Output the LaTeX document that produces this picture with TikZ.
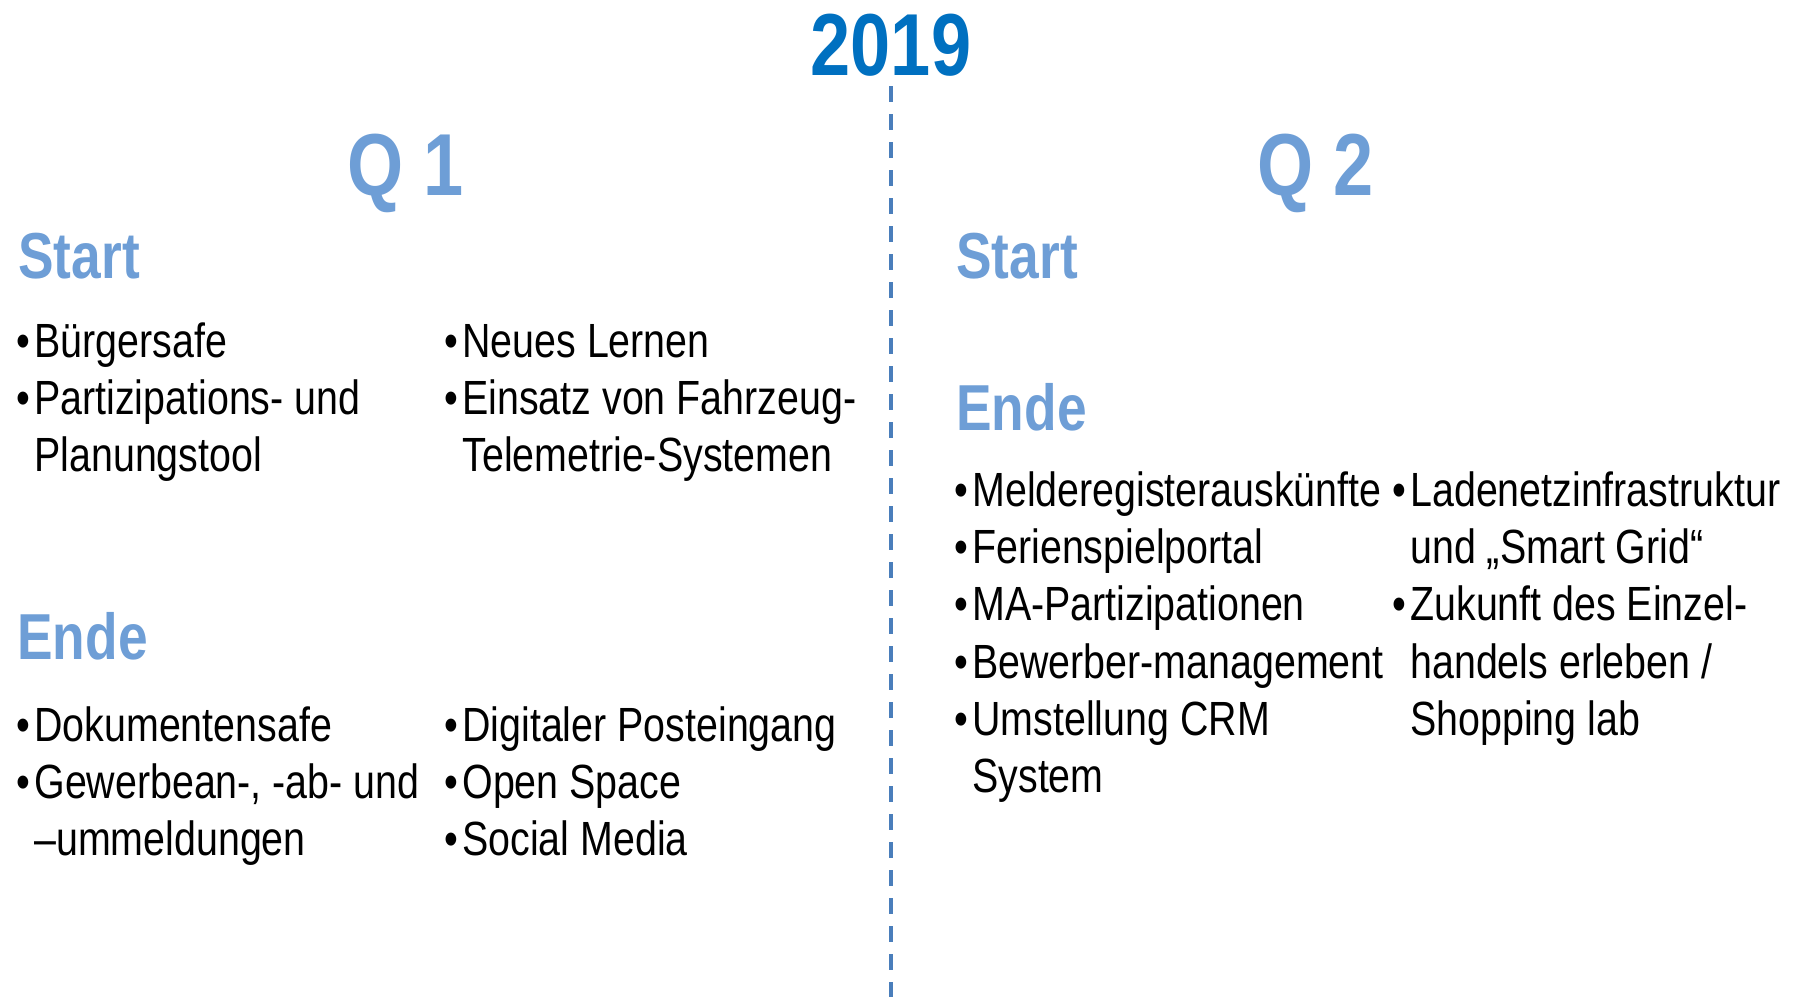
\documentclass[tikz,border=0pt]{standalone}
\usepackage{fontspec}
\setmainfont{Liberation Sans}[FakeStretch=0.82]
\definecolor{yearblue}{HTML}{0070C0}
\definecolor{headblue}{HTML}{6E9ED6}
\definecolor{lineblue}{HTML}{4A7EBB}
\newcommand{\bl}{\makebox[9pt][l]{•}}
\newcommand{\ind}{\hspace*{9pt}}
\begin{document}
\begin{tikzpicture}[x=0.5pt,y=-0.5pt,
  year/.style={inner sep=0pt, anchor=base, text=yearblue, font=\fontsize{44}{50}\selectfont\bfseries},
  quarter/.style={inner sep=0pt, anchor=base, text=headblue, font=\fontsize{44}{50}\selectfont\bfseries},
  phase/.style={inner sep=0pt, anchor=base west, text=headblue, font=\fontsize{32.5}{38}\selectfont\bfseries},
  item/.style={inner sep=0pt, anchor=base west, text=black, font=\fontsize{24}{28.5}\selectfont},
  divider/.style={draw=lineblue, line width=2pt, dash pattern=on 8pt off 6pt}]
\useasboundingbox (0,0) rectangle (1796,997);
% year and divider
\node[year] (year) at (891,75) {2019};
\coordinate (dtop) at (891,86);
\coordinate (dbot) at (891,997);
\draw[divider] (dtop) -- (dbot);
% quarters
\node[quarter] (q1) at (406,195) {Q 1};
\node[quarter] (q2) at (1316,195) {Q 2};
% Q1 start
\node[phase] (s1) at (18,278) {Start};
\node[item] (a1) at (16,357) {\bl Bürgersafe};
\node[item] (a2) at (16,414) {\bl Partizipations- und};
\node[item] (a3) at (16,471) {\ind Planungstool};
\node[item] (b1) at (444,357) {\bl Neues Lernen};
\node[item] (b2) at (444,414) {\bl Einsatz von Fahrzeug-};
\node[item] (b3) at (444,471) {\ind Telemetrie-Systemen};
% Q1 end
\node[phase] (e1) at (17,659) {Ende};
\node[item] (c1) at (16,741) {\bl Dokumentensafe};
\node[item] (c2) at (16,798) {\bl Gewerbean-, -ab- und};
\node[item] (c3) at (16,855) {\ind –ummeldungen};
\node[item] (d1) at (444,741) {\bl Digitaler Posteingang};
\node[item] (d2) at (444,798) {\bl Open Space};
\node[item] (d3) at (444,855) {\bl Social Media};
% Q2 start
\node[phase] (s2) at (956,278) {Start};
% Q2 end
\node[phase] (e2) at (956,430) {Ende};
\node[item] (f1) at (954,506) {\bl Melderegisterauskünfte};
\node[item] (f2) at (954,563) {\bl Ferienspielportal};
\node[item] (f3) at (954,620) {\bl MA-Partizipationen};
\node[item] (f4) at (954,678) {\bl Bewerber-management};
\node[item] (f5) at (954,735) {\bl Umstellung CRM};
\node[item] (f6) at (954,792) {\ind System};
\node[item] (g1) at (1392,506) {\bl Ladenetzinfrastruktur};
\node[item] (g2) at (1392,563) {\ind und „Smart Grid“};
\node[item] (g3) at (1392,620) {\bl Zukunft des Einzel-};
\node[item] (g4) at (1392,678) {\ind handels erleben /};
\node[item] (g5) at (1392,735) {\ind Shopping lab};
\end{tikzpicture}
\end{document}
